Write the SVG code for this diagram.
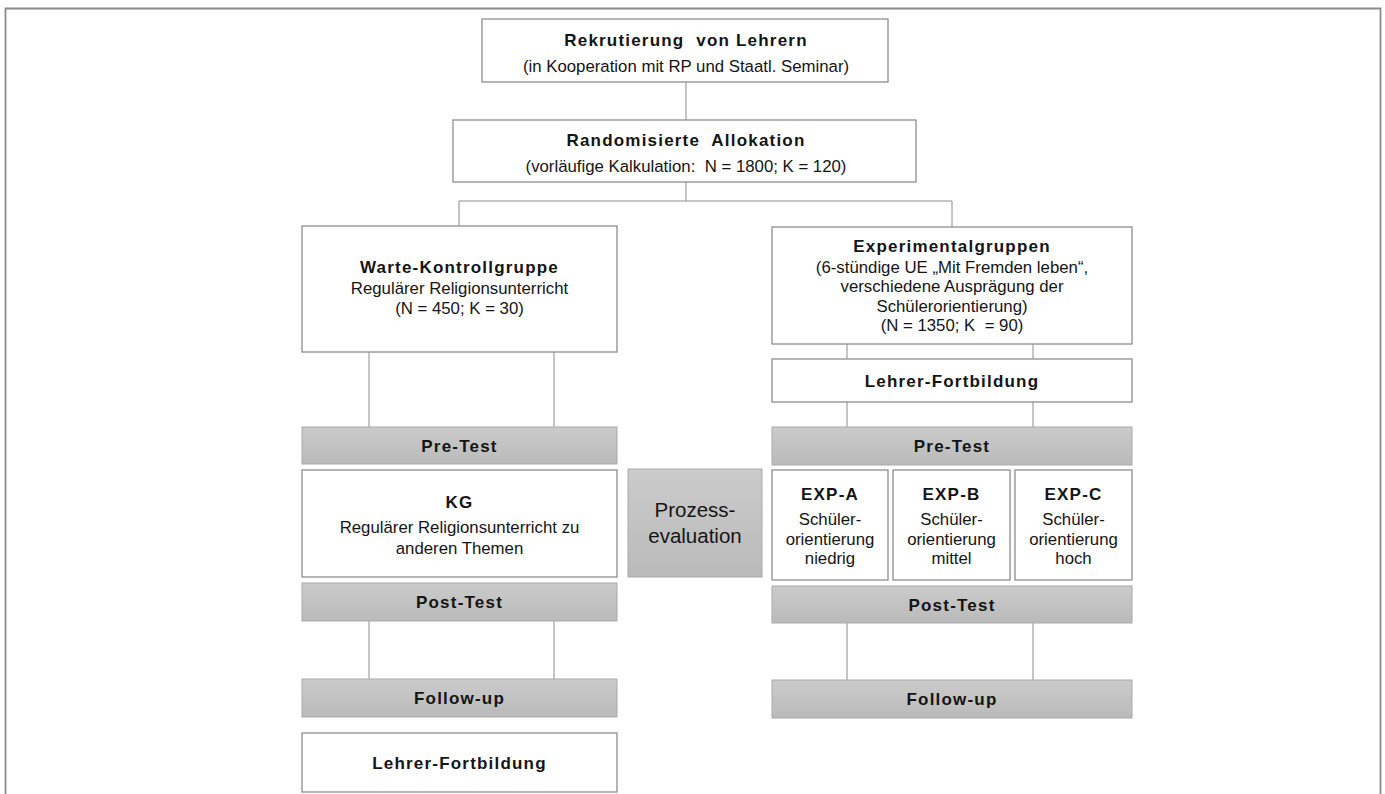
<svg xmlns="http://www.w3.org/2000/svg" width="1385" height="794" viewBox="0 0 1385 794">
<defs>
<linearGradient id="gb" x1="0" y1="0" x2="0" y2="1">
<stop offset="0" stop-color="#cbcbcb"/>
<stop offset="1" stop-color="#bababa"/>
</linearGradient>
<style>
.box{fill:#ffffff;stroke:#8e8e8e;stroke-width:1.3}
.bar{fill:url(#gb);stroke:#a9a9a9;stroke-width:1}
.ln{fill:none;stroke:#8c8c8c;stroke-width:1}
.t{font-family:"Liberation Sans",Arial,sans-serif;fill:#151515;text-anchor:middle}
.b{font-size:17px;font-weight:bold;letter-spacing:1.2px}
.r{font-size:16.8px}
.p{font-size:20.5px}
</style>
</defs>
<rect width="1385" height="794" fill="#ffffff"/>
<path d="M5.5,800 V8.5 H1380.5 V800" fill="none" stroke="#8a8a8a" stroke-width="1.8"/>

<g id="connectors">
<line class="ln" x1="686" y1="82" x2="686" y2="120"/>
<line class="ln" x1="686" y1="182" x2="686" y2="201"/>
<line class="ln" x1="459" y1="201" x2="952" y2="201"/>
<line class="ln" x1="459" y1="201" x2="459" y2="226"/>
<line class="ln" x1="952" y1="201" x2="952" y2="227"/>
<line class="ln" x1="369" y1="352" x2="369" y2="427"/>
<line class="ln" x1="554" y1="352" x2="554" y2="427"/>
<line class="ln" x1="847" y1="344" x2="847" y2="359"/>
<line class="ln" x1="1033" y1="344" x2="1033" y2="359"/>
<line class="ln" x1="847" y1="402" x2="847" y2="427"/>
<line class="ln" x1="1033" y1="402" x2="1033" y2="427"/>
<line class="ln" x1="369" y1="621" x2="369" y2="679"/>
<line class="ln" x1="554" y1="621" x2="554" y2="679"/>
<line class="ln" x1="847" y1="623" x2="847" y2="680"/>
<line class="ln" x1="1033" y1="623" x2="1033" y2="680"/>
</g>

<g id="rekrutierung">
<rect class="box" x="482" y="19" width="406" height="63"/>
<text class="t b" x="686" y="46" xml:space="preserve">Rekrutierung  von Lehrern</text>
<text class="t r" x="686" y="72">(in Kooperation mit RP und Staatl. Seminar)</text>
</g>

<g id="allokation">
<rect class="box" x="453" y="120" width="463" height="62"/>
<text class="t b" x="686" y="146" xml:space="preserve">Randomisierte  Allokation</text>
<text class="t r" x="686" y="172" xml:space="preserve">(vorläufige Kalkulation:  N = 1800; K = 120)</text>
</g>

<g id="warte-kontrollgruppe">
<rect class="box" x="302" y="226" width="315" height="126"/>
<text class="t b" x="459.5" y="273">Warte-Kontrollgruppe</text>
<text class="t r" x="459.5" y="294">Regulärer Religionsunterricht</text>
<text class="t r" x="459.5" y="314">(N = 450; K = 30)</text>
</g>

<g id="experimentalgruppen">
<rect class="box" x="772" y="227" width="360" height="117"/>
<text class="t b" x="952" y="252">Experimentalgruppen</text>
<text class="t r" x="952" y="273">(6-stündige UE „Mit Fremden leben“,</text>
<text class="t r" x="952" y="292">verschiedene Ausprägung der</text>
<text class="t r" x="952" y="312">Schülerorientierung)</text>
<text class="t r" x="952" y="331" xml:space="preserve">(N = 1350; K  = 90)</text>
</g>

<g id="lehrer-fortbildung-exp">
<rect class="box" x="772" y="359" width="360" height="43"/>
<text class="t b" x="952" y="387">Lehrer-Fortbildung</text>
</g>

<g id="pretest-kg">
<rect class="bar" x="302" y="427" width="315" height="37"/>
<text class="t b" x="459.5" y="452">Pre-Test</text>
</g>

<g id="pretest-exp">
<rect class="bar" x="772" y="427" width="360" height="38"/>
<text class="t b" x="952" y="452">Pre-Test</text>
</g>

<g id="kg">
<rect class="box" x="302" y="470" width="315" height="107"/>
<text class="t b" x="459.5" y="508">KG</text>
<text class="t r" x="459.5" y="533">Regulärer Religionsunterricht zu</text>
<text class="t r" x="459.5" y="554">anderen Themen</text>
</g>

<g id="prozessevaluation">
<rect class="bar" x="628" y="469" width="134" height="108"/>
<text class="t p" x="695" y="517">Prozess-</text>
<text class="t p" x="695" y="543">evaluation</text>
</g>

<g id="exp-a">
<rect class="box" x="772" y="470" width="116" height="110"/>
<text class="t b" x="830" y="500">EXP-A</text>
<text class="t r" x="830" y="525">Schüler-</text>
<text class="t r" x="830" y="545">orientierung</text>
<text class="t r" x="830" y="564">niedrig</text>
</g>

<g id="exp-b">
<rect class="box" x="893" y="470" width="117" height="110"/>
<text class="t b" x="951.5" y="500">EXP-B</text>
<text class="t r" x="951.5" y="525">Schüler-</text>
<text class="t r" x="951.5" y="545">orientierung</text>
<text class="t r" x="951.5" y="564">mittel</text>
</g>

<g id="exp-c">
<rect class="box" x="1015" y="470" width="117" height="110"/>
<text class="t b" x="1073.5" y="500">EXP-C</text>
<text class="t r" x="1073.5" y="525">Schüler-</text>
<text class="t r" x="1073.5" y="545">orientierung</text>
<text class="t r" x="1073.5" y="564">hoch</text>
</g>

<g id="posttest-kg">
<rect class="bar" x="302" y="583" width="315" height="38"/>
<text class="t b" x="459.5" y="608">Post-Test</text>
</g>

<g id="posttest-exp">
<rect class="bar" x="772" y="586" width="360" height="37"/>
<text class="t b" x="952" y="611">Post-Test</text>
</g>

<g id="followup-kg">
<rect class="bar" x="302" y="679" width="315" height="38"/>
<text class="t b" x="459.5" y="704">Follow-up</text>
</g>

<g id="followup-exp">
<rect class="bar" x="772" y="680" width="360" height="38"/>
<text class="t b" x="952" y="705">Follow-up</text>
</g>

<g id="lehrer-fortbildung-kg">
<rect class="box" x="302" y="733" width="315" height="59"/>
<text class="t b" x="459.5" y="769">Lehrer-Fortbildung</text>
</g>
</svg>
